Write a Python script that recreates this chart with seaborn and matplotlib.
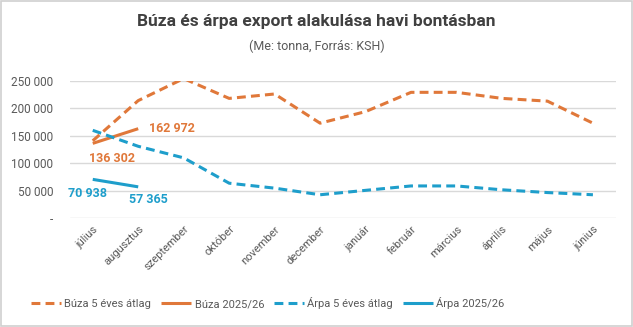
import matplotlib
matplotlib.use("Agg")
import matplotlib.pyplot as plt
import matplotlib.ticker as mticker
from matplotlib.patches import Rectangle
import seaborn as sns
import pandas as pd

months = ["július", "augusztus", "szeptember", "október", "november", "december",
          "január", "február", "március", "április", "május", "június"]
buza_avg = [141000, 214000, 254000, 218000, 226000, 173000,
            194000, 229000, 229000, 218000, 213000, 173000]
buza_cur = [136302, 162972]
arpa_avg = [160000, 131000, 110000, 64000, 55000, 43000,
            51000, 59000, 59000, 52000, 47000, 43000]
arpa_cur = [70938, 57365]

ORANGE = "#E0783A"
BLUE = "#1E9ECB"
GREY = "#595959"

sns.set_theme(style="white")
plt.rcParams["font.family"] = ["Roboto", "DejaVu Sans"]

fig = plt.figure(figsize=(6.33, 3.27), dpi=100)
ax = fig.add_axes([0.1106, 0.332, 0.862, 0.421])

df_ba = pd.DataFrame({"hónap": months, "érték": buza_avg})
df_bc = pd.DataFrame({"hónap": months[:len(buza_cur)], "érték": buza_cur})
df_aa = pd.DataFrame({"hónap": months, "érték": arpa_avg})
df_ac = pd.DataFrame({"hónap": months[:len(arpa_cur)], "érték": arpa_cur})

x_all = list(range(len(months)))
sns.lineplot(x=x_all, y=df_ba["érték"], ax=ax, color=ORANGE, lw=2.2,
             label="Búza 5 éves átlag")
sns.lineplot(x=x_all[:len(buza_cur)], y=df_bc["érték"], ax=ax, color=ORANGE, lw=2.2,
             label="Búza 2025/26")
sns.lineplot(x=x_all, y=df_aa["érték"], ax=ax, color=BLUE, lw=2.2,
             label="Árpa 5 éves átlag")
sns.lineplot(x=x_all[:len(arpa_cur)], y=df_ac["érték"], ax=ax, color=BLUE, lw=2.2,
             label="Árpa 2025/26")
for i in (0, 2):
    ax.lines[i].set_dashes([2.9, 1.7])
for ln in ax.lines:
    ln.set_solid_capstyle("butt")
    ln.set_dash_capstyle("butt")

ax.set_xlim(-0.5, len(months) - 0.5)
ax.set_ylim(0, 250000)
ax.set_yticks([0, 50000, 100000, 150000, 200000, 250000])
ax.yaxis.set_major_formatter(mticker.FuncFormatter(
    lambda v, p: "-" if v == 0 else f"{int(v):,}".replace(",", " ")))
ax.set_xticks(x_all)
ax.set_xticklabels(months, rotation=45, ha="right", rotation_mode="anchor")
ax.tick_params(axis="x", labelsize=8, labelcolor=GREY, pad=4, length=0)
ax.tick_params(axis="y", labelsize=8.5, labelcolor=GREY, pad=12, length=0)
ax.grid(axis="y", color="#D9D9D9", lw=1)
ax.set_axisbelow(True)
for s in ax.spines.values():
    s.set_visible(False)
ax.set_xlabel("")
ax.set_ylabel("")

def fmt(v):
    return f"{v:,}".replace(",", " ")

lab_kw = dict(fontsize=9, fontweight="bold", textcoords="offset points")
ax.annotate(fmt(buza_cur[0]), (0, buza_cur[0]), xytext=(14, -11), color=ORANGE,
            ha="center", va="center", **lab_kw)
ax.annotate(fmt(buza_cur[1]), (1, buza_cur[1]), xytext=(8, 0), color=ORANGE,
            ha="left", va="center", **lab_kw)
ax.annotate(fmt(arpa_cur[0]), (0, arpa_cur[0]), xytext=(-4, -10), color=BLUE,
            ha="center", va="center", **lab_kw)
ax.annotate(fmt(arpa_cur[1]), (1, arpa_cur[1]), xytext=(7, -9), color=BLUE,
            ha="center", va="center", **lab_kw)

leg = ax.legend(loc="center", bbox_to_anchor=(0.423, 0.073), bbox_transform=fig.transFigure,
                ncol=4, frameon=False, fontsize=8, handlelength=2.7, columnspacing=0.9,
                handletextpad=0.3, labelcolor=GREY)
for h in leg.get_lines():
    h.set_linewidth(2.2)

fig.text(0.5, 0.935, "Búza és árpa export alakulása havi bontásban", ha="center",
         va="center", fontsize=12.5, fontweight="bold", color="#404040")
fig.text(0.5, 0.857, "(Me: tonna, Forrás: KSH)", ha="center", va="center",
         fontsize=9, color=GREY)

fig.patches.append(Rectangle((0.002, 0.003), 0.996, 0.994, transform=fig.transFigure,
                             fill=False, edgecolor="#D0D0D0", lw=1.2))

fig.savefig("out.png", dpi=100)
